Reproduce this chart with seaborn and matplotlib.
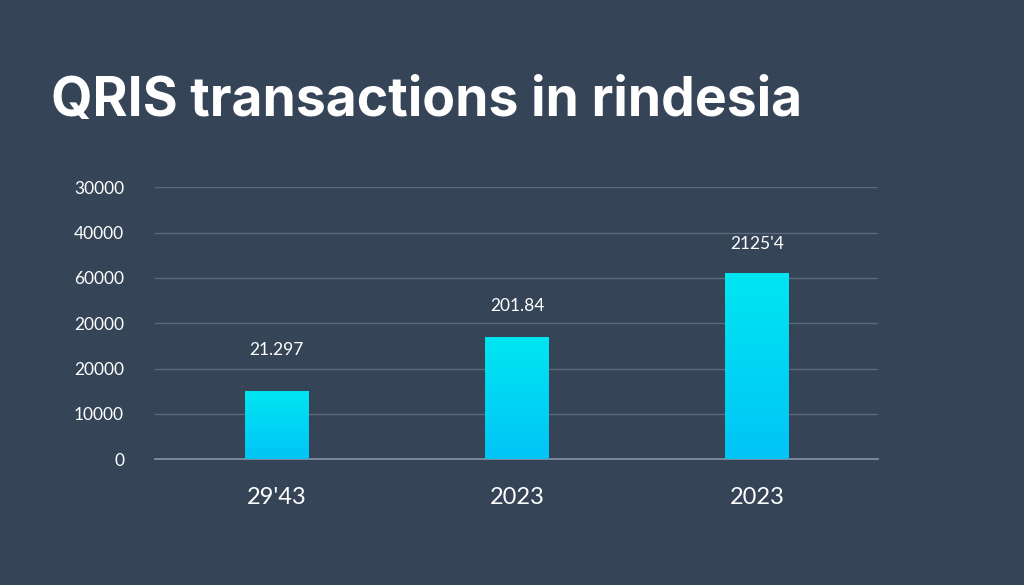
import matplotlib
matplotlib.use("Agg")
import matplotlib.pyplot as plt
import seaborn as sns
import numpy as np
import pandas as pd
from matplotlib.colors import LinearSegmentedColormap

categories = ["29'43", "2023", "2023"]
values = [15000, 26900, 41000]
bar_labels = ["21.297", "201.84", "2125'4"]
tick_values = [0, 10000, 20000, 30000, 40000, 50000, 60000]
tick_labels = ["0", "10000", "20000", "20000", "60000", "40000", "30000"]

bg = "#354457"
fig = plt.figure(figsize=(10.24, 5.85), dpi=100, facecolor=bg)
ax = fig.add_axes([0.151, 0.215, 0.706, 0.465], facecolor=bg)
df = pd.DataFrame({"pos": [f"c{i}" for i in range(len(categories))], "val": values})
sns.barplot(data=df, x="pos", y="val", ax=ax, width=0.266, color="#00d0f5")

cmap = LinearSegmentedColormap.from_list("g", ["#00c4f6", "#00e6f2"])
grad = np.linspace(0, 1, 256).reshape(-1, 1)
for p in ax.patches:
    x0, y0 = p.get_x(), p.get_y()
    w, h = p.get_width(), p.get_height()
    im = ax.imshow(grad, extent=[x0, x0 + w, y0, y0 + h], origin="lower",
                   cmap=cmap, aspect="auto", zorder=3)
    im.set_clip_path(p)
    p.set_alpha(0)

offsets = [9000, 7000, 6500]
for i, (v, lab) in enumerate(zip(values, bar_labels)):
    ax.text(i, v + offsets[i], lab, ha="center", va="center", color="white",
            fontsize=12.5, family="Lato")

ax.set_xlim(-0.507, 2.5)
ax.set_ylim(0, 60000)
ax.set_xticks(range(len(categories)))
ax.set_xticklabels(categories, family="Lato")
ax.set_yticks(tick_values)
ax.set_yticklabels(tick_labels, color="white", fontsize=12.5, family="Lato")
ax.tick_params(axis="y", length=0, pad=22)
ax.tick_params(axis="x", length=0, pad=20, labelsize=17, labelcolor="white")
ax.set_xlabel("")
ax.set_ylabel("")
ax.grid(axis="y", color="#5a6878", linewidth=1)
ax.set_axisbelow(True)
for s in ["top", "right", "left"]:
    ax.spines[s].set_visible(False)
ax.spines["bottom"].set_color("#8a95a3")
ax.spines["bottom"].set_linewidth(1.2)

fig.text(0.05, 0.826, "QRIS transactions in rindesia", color="white",
         fontsize=38.5, fontweight="bold", ha="left", va="center", family="Inter")
fig.savefig("out.png", dpi=100, facecolor=bg)
